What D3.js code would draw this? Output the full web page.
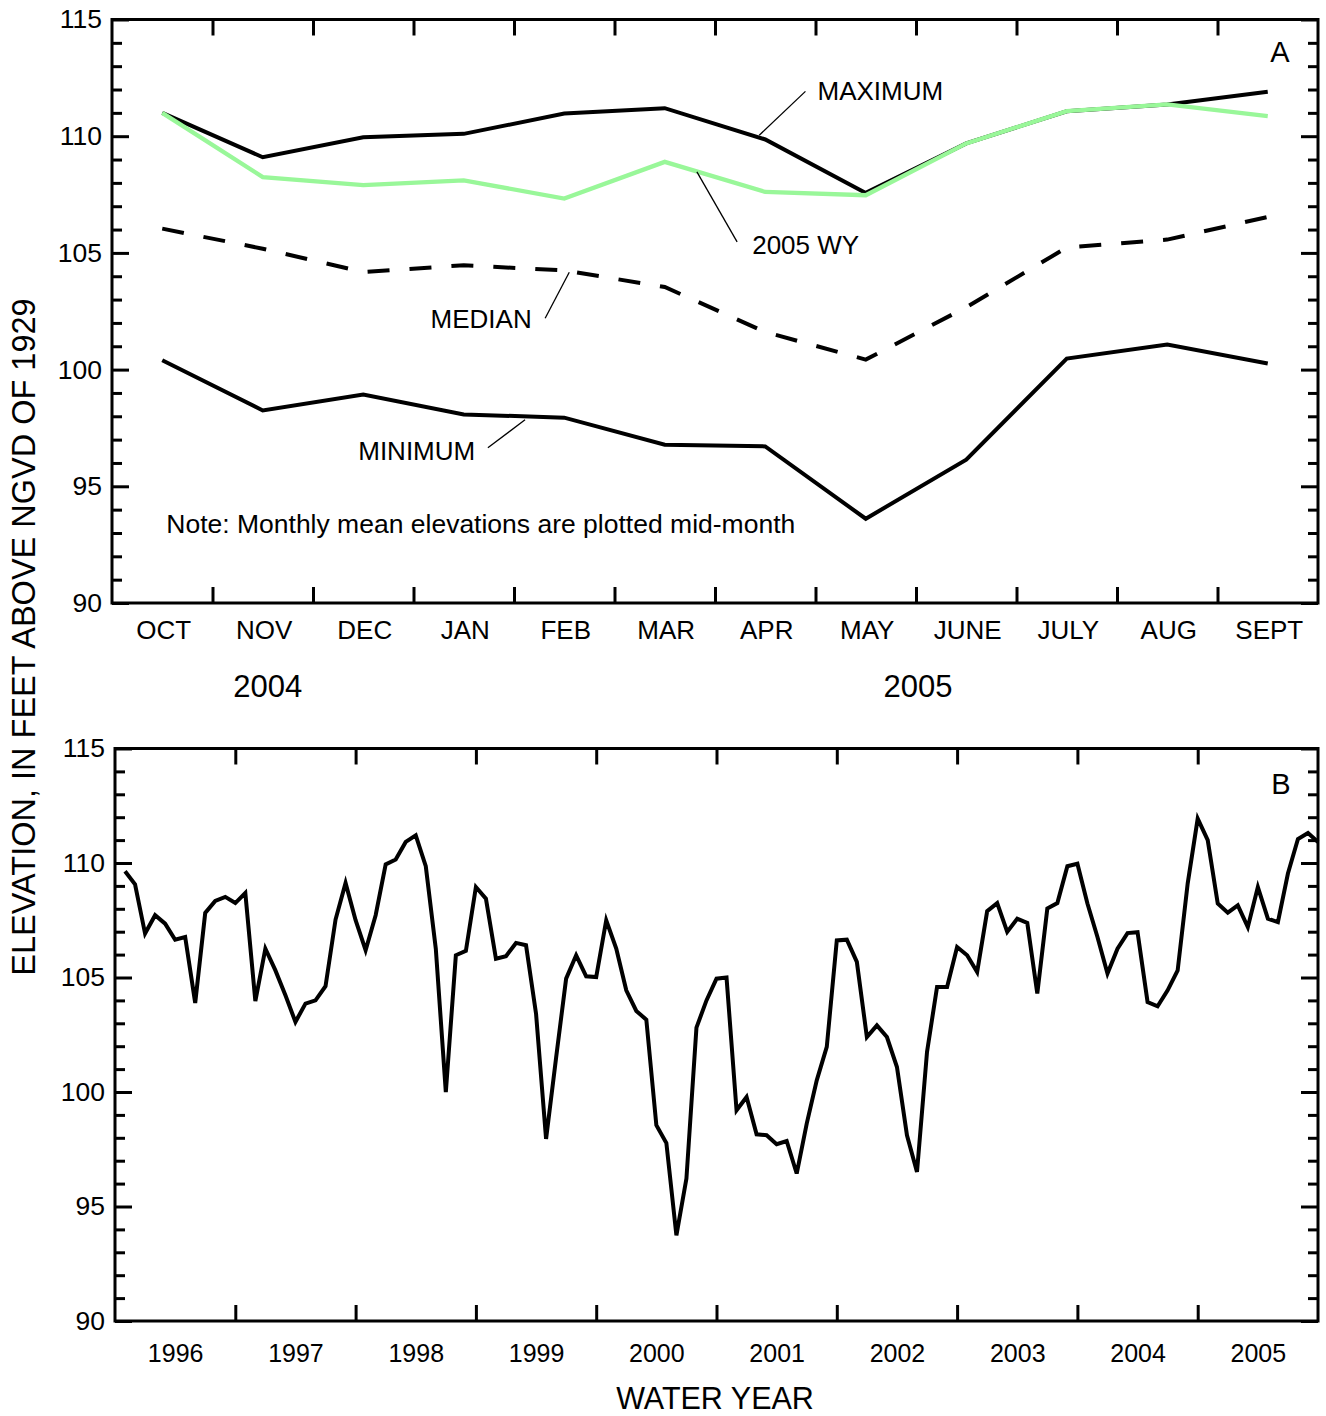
<!DOCTYPE html>
<html><head><meta charset="utf-8">
<script src="https://cdn.jsdelivr.net/npm/d3@7"></script>
<style>
body{margin:0;background:#fff;}
svg{display:block;font-family:"Liberation Sans",Arial,sans-serif;}
.axis path{display:none;}
.axis line{stroke:#000;stroke-width:3;}
.axis text{font-size:26px;fill:#000;font-family:"Liberation Sans",Arial,sans-serif;}
</style></head>
<body>
<svg id="c" width="1326" height="1416"></svg>
<script>
// ---------- DATA ----------
const months = ["OCT","NOV","DEC","JAN","FEB","MAR","APR","MAY","JUNE","JULY","AUG","SEPT"];
const yearLabelsTop = ["2004","2005"];
const yearLabelPosTop = [1.55, 8.02];
const maximum = [111.0,109.1,109.95,110.1,110.97,111.2,109.86,107.57,109.69,111.07,111.36,111.9];
const wy2005 = [111.0,108.25,107.9,108.11,107.33,108.9,107.61,107.47,109.69,111.07,111.36,110.86];
const median = [106.04,105.18,104.18,104.47,104.25,103.54,101.61,100.43,102.67,105.23,105.57,106.54];
const minimum = [100.4,98.25,98.93,98.08,97.94,96.78,96.71,93.61,96.14,100.47,101.07,100.26];
const yTicks = [90,95,100,105,110,115];
const waterYears = ["1996","1997","1998","1999","2000","2001","2002","2003","2004","2005"];
// monthly mean elevations Oct 1995 - Sep 2005
const history = [
109.64,109.07,106.92,107.72,107.35,106.65,106.77,103.89,107.82,108.34,108.52,108.25,
108.69,103.97,106.26,105.31,104.22,103.06,103.86,104.0,104.62,107.53,109.13,107.5,
106.19,107.72,109.94,110.15,110.92,111.21,109.86,106.26,100.0,105.97,106.16,108.95,
108.44,105.82,105.93,106.51,106.41,103.42,97.95,101.5,104.95,105.97,105.05,105.02,
107.5,106.26,104.44,103.54,103.16,98.55,97.77,93.74,96.22,102.81,104.0,104.95,
105.0,99.2,99.78,98.15,98.11,97.72,97.86,96.44,98.62,100.51,101.97,106.62,
106.65,105.68,102.4,102.91,102.4,101.09,98.11,96.51,101.75,104.59,104.59,106.33,
105.97,105.24,107.9,108.25,106.99,107.57,107.38,104.3,108.01,108.25,109.86,109.97,
108.23,106.77,105.17,106.26,106.94,106.98,103.93,103.74,104.44,105.31,109.1,111.94,
111.0,108.23,107.83,108.15,107.2,108.95,107.57,107.42,109.54,111.05,111.31,110.92];

// ---------- LAYOUT ----------
const svg = d3.select("#c");
const A = {l:112, r:1318, t:19.5, b:603};
const B = {l:115, r:1318, t:748.5, b:1321};

const xA = d3.scaleLinear().domain([0,12]).range([A.l,A.r]);
const yA = d3.scaleLinear().domain([90,115]).range([A.b,A.t]);
const xB = d3.scaleLinear().domain([0,120]).range([B.l,B.r]);
const yB = d3.scaleLinear().domain([90,115]).range([B.b,B.t]);

const minorVals = d3.range(90,116).filter(v=>v%5!==0);

function yAxes(P, y){
  const g = svg.append("g").attr("class","axis").attr("transform",`translate(${P.l},0)`)
    .call(d3.axisLeft(y).tickValues(yTicks).tickSize(-17).tickPadding(10).tickFormat(d3.format("d")));
  g.selectAll("text").style("font-size","26.5px");
  svg.append("g").attr("class","axis").attr("transform",`translate(${P.l},0)`)
    .call(d3.axisLeft(y).tickValues(minorVals).tickSize(-10).tickFormat(""));
  svg.append("g").attr("class","axis").attr("transform",`translate(${P.r},0)`)
    .call(d3.axisRight(y).tickValues(yTicks).tickSize(-17).tickFormat(""));
  svg.append("g").attr("class","axis").attr("transform",`translate(${P.r},0)`)
    .call(d3.axisRight(y).tickValues(minorVals).tickSize(-10).tickFormat(""));
}
function xTicks(P, x, vals){
  svg.append("g").attr("class","axis").attr("transform",`translate(0,${P.b})`)
    .call(d3.axisBottom(x).tickValues(vals).tickSize(-16).tickFormat(""));
  svg.append("g").attr("class","axis").attr("transform",`translate(0,${P.t})`)
    .call(d3.axisTop(x).tickValues(vals).tickSize(-16).tickFormat(""));
}
function frame(P){
  svg.append("rect").attr("x",P.l).attr("y",P.t).attr("width",P.r-P.l).attr("height",P.b-P.t)
    .attr("fill","none").attr("stroke","#000").attr("stroke-width",3);
}

// ---------- PANEL A ----------
yAxes(A, yA);
xTicks(A, xA, d3.range(1,12));
// month labels
const mAx = svg.append("g").attr("class","axis").attr("transform",`translate(1,${A.b+12})`)
  .call(d3.axisBottom(xA).tickValues(d3.range(12).map(i=>i+0.5)).tickSize(0).tickPadding(0)
    .tickFormat((d,i)=>months[i]));
mAx.selectAll("text").attr("dy","0.71em").attr("y",6);
svg.selectAll(".yrA").data(yearLabelsTop).join("text")
  .attr("x",(d,i)=>xA(yearLabelPosTop[i])).attr("y",697)
  .attr("text-anchor","middle").attr("font-size",31).text(d=>d);

const lineA = d3.line().x((d,i)=>xA(i+0.5)).y(d=>yA(d));
svg.append("path").datum(maximum).attr("d",lineA).attr("fill","none").attr("stroke","#000").attr("stroke-width",4);
svg.append("path").datum(wy2005).attr("d",lineA).attr("fill","none").attr("stroke","#99f799").attr("stroke-width",4.3);
svg.append("path").datum(median).attr("d",lineA).attr("fill","none").attr("stroke","#000").attr("stroke-width",4).attr("stroke-dasharray","22,20");
svg.append("path").datum(minimum).attr("d",lineA).attr("fill","none").attr("stroke","#000").attr("stroke-width",4);
frame(A);

// annotations (data coordinates)
const notes = [
  {t:"MAXIMUM", tx:7.02, ty:111.54, l:[[6.9,111.92],[6.44,110.04]]},
  {t:"2005 WY", tx:6.37, ty:104.94, l:[[6.22,105.47],[5.82,108.47]]},
  {t:"MEDIAN", tx:3.17, ty:101.77, l:[[4.31,102.2],[4.55,104.17]]},
  {t:"MINIMUM", tx:2.45, ty:96.11, l:[[3.74,96.65],[4.11,97.85]]}
];
notes.forEach(n=>{
  svg.append("text").attr("x",xA(n.tx)).attr("y",yA(n.ty)).attr("font-size",26).text(n.t);
  svg.append("line").attr("x1",xA(n.l[0][0])).attr("y1",yA(n.l[0][1]))
    .attr("x2",xA(n.l[1][0])).attr("y2",yA(n.l[1][1])).attr("stroke","#000").attr("stroke-width",1.3);
});
svg.append("text").attr("x",xA(0.54)).attr("y",yA(93.0)).attr("font-size",26.5)
  .text("Note: Monthly mean elevations are plotted mid-month");
svg.append("text").attr("x",1280).attr("y",62).attr("text-anchor","middle").attr("font-size",29).text("A");

// ---------- PANEL B ----------
yAxes(B, yB);
xTicks(B, xB, d3.range(12,120,12));
const yrAx = svg.append("g").attr("class","axis").attr("transform",`translate(0,${B.b+12})`)
  .call(d3.axisBottom(xB).tickValues(d3.range(10).map(i=>i*12+6)).tickSize(0).tickPadding(0)
    .tickFormat((d,i)=>waterYears[i]));
yrAx.selectAll("text").attr("dy","0.71em").attr("y",11).style("font-size","25px");

const lineB = d3.line().x((d,i)=>xB(i+1)).y(d=>yB(d));
svg.append("path").datum(history).attr("d",lineB).attr("fill","none").attr("stroke","#000").attr("stroke-width",4);
frame(B);
svg.append("text").attr("x",1281).attr("y",794).attr("text-anchor","middle").attr("font-size",29).text("B");
svg.append("text").attr("x",715).attr("y",1409).attr("text-anchor","middle").attr("font-size",30.5).text("WATER YEAR");

svg.append("text").attr("transform","translate(35,637) rotate(-90)").attr("text-anchor","middle")
  .attr("font-size",32.5).text("ELEVATION, IN FEET ABOVE NGVD OF 1929");
</script>
</body></html>
